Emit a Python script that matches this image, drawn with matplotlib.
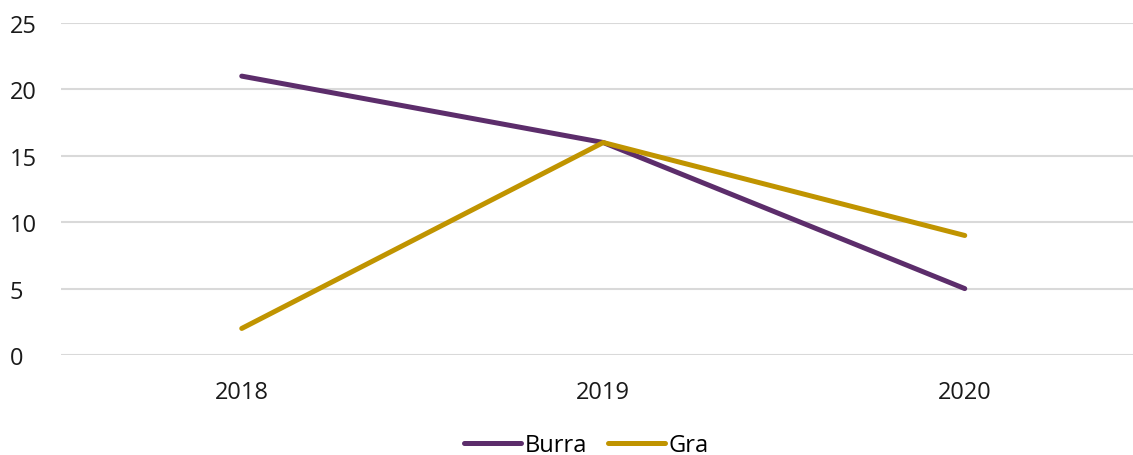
import matplotlib.pyplot as plt

years = ["2018", "2019", "2020"]
burra = [21, 16, 5]
gra = [2, 16, 9]

plt.rcParams['font.family'] = ['Open Sans', 'DejaVu Sans']

fig = plt.figure(figsize=(11.33, 4.56), dpi=100)
ax = fig.add_axes([61 / 1133, 1 - 356 / 456, (1133 - 61) / 1133, (356 - 24) / 456])

x = range(len(years))
ax.plot(x, burra, color="#5c2d6b", linewidth=3.6, label="Burra", solid_capstyle="round")
ax.plot(x, gra, color="#c09400", linewidth=3.6, label="Gra", solid_capstyle="round")

ax.set_ylim(0, 25)
ax.set_yticks([0, 5, 10, 15, 20, 25])
ax.set_xlim(-0.5, (1133 - 61) / 361.5 - 0.5)
ax.set_xticks(list(x))
ax.set_xticklabels(years)
ax.grid(axis="y", color="#d9d9d9", linewidth=1.5)
ax.set_axisbelow(True)
for s in ax.spines.values():
    s.set_visible(False)
ax.tick_params(length=0, labelsize=17, colors="#1a1a1a")
ax.tick_params(axis="y", pad=37)
for lbl in ax.get_yticklabels():
    lbl.set_horizontalalignment("left")
ax.tick_params(axis="x", pad=18)

ax.legend(loc="center", bbox_to_anchor=(0.49, -0.272), ncol=2, frameon=False,
          fontsize=17, handlelength=2.4, handletextpad=0.15, columnspacing=0.9,
          borderpad=0.1)

fig.savefig("out.png", dpi=100)
